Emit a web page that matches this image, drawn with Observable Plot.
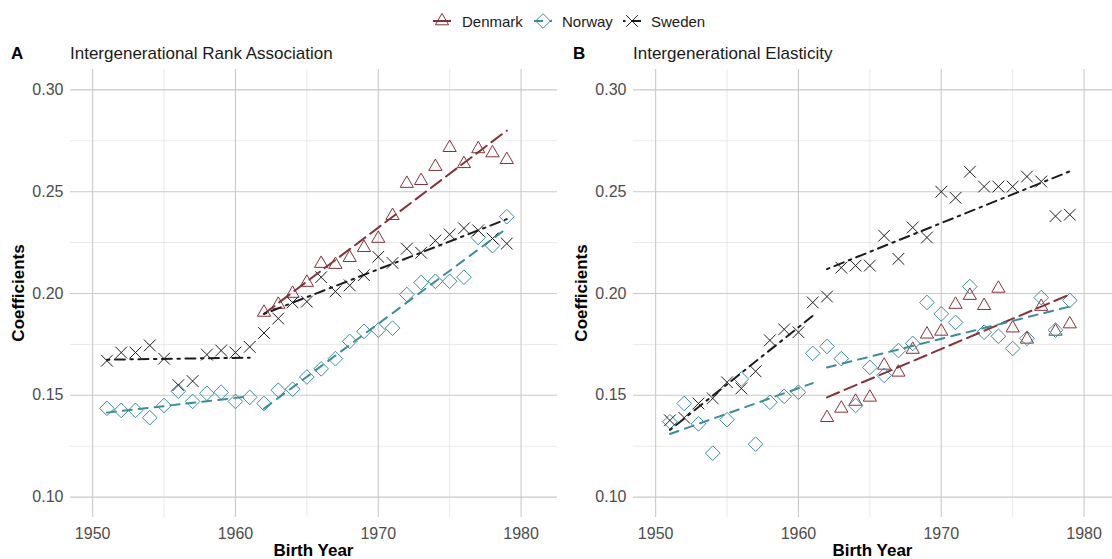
<!DOCTYPE html>
<html><head><meta charset="utf-8">
<script src="https://cdn.jsdelivr.net/npm/d3@7"></script>
<script src="https://cdn.jsdelivr.net/npm/@observablehq/plot@0.6"></script>
<style>
body{margin:0;background:#fff;}
#chart{position:relative;width:1112px;height:559px;overflow:hidden;background:#fff;font-family:"Liberation Sans",Arial,sans-serif;}
#chart > svg{position:absolute;top:0;}
</style></head><body><div id="chart"></div>
<script>
// ---------- data ----------
const countries = ["Denmark", "Norway", "Sweden"];
const years = [1951,1952,1953,1954,1955,1956,1957,1958,1959,1960,1961,1962,1963,1964,1965,1966,1967,1968,1969,1970,1971,1972,1973,1974,1975,1976,1977,1978,1979];
const yearsDenmark = [1962,1963,1964,1965,1966,1967,1968,1969,1970,1971,1972,1973,1974,1975,1976,1977,1978,1979];

// Panel A: Intergenerational Rank Association
const rankDenmark = [0.1907,0.1946,0.200,0.2054,0.2147,0.2142,0.2176,0.2225,0.227,0.2382,0.254,0.2554,0.2623,0.2716,0.2637,0.271,0.269,0.2657];
const rankNorway  = [0.1436,0.1426,0.1426,0.139,0.145,0.152,0.147,0.151,0.1515,0.147,0.149,0.146,0.1525,0.153,0.159,0.163,0.168,0.1765,0.1814,0.182,0.183,0.1995,0.2054,0.206,0.206,0.208,0.2275,0.2235,0.2377];
const rankSweden  = [0.167,0.171,0.171,0.1745,0.168,0.155,0.157,0.170,0.172,0.171,0.1738,0.1806,0.1877,0.1956,0.196,0.208,0.201,0.204,0.209,0.218,0.215,0.222,0.220,0.226,0.229,0.232,0.231,0.227,0.2245];

// Panel B: Intergenerational Elasticity
const igeDenmark = [0.139,0.1436,0.147,0.149,0.1647,0.1613,0.1725,0.180,0.1814,0.1946,0.199,0.194,0.2025,0.183,0.1775,0.1936,0.1814,0.185];
const igeNorway  = [0.137,0.146,0.136,0.1216,0.138,0.158,0.126,0.1466,0.1495,0.1515,0.1706,0.174,0.168,0.145,0.1637,0.1598,0.172,0.1755,0.1956,0.190,0.1858,0.2034,0.181,0.179,0.173,0.178,0.198,0.182,0.1966];
const igeSweden  = [0.1377,0.139,0.146,0.1485,0.1564,0.1534,0.1618,0.177,0.1824,0.181,0.1956,0.1985,0.2127,0.2137,0.2137,0.2284,0.217,0.2324,0.2275,0.25,0.247,0.2598,0.2525,0.2525,0.2525,0.2574,0.255,0.238,0.2387];

// Fitted trend segments (start year, end year) and their values
const segYears = [[1951, 1961], [1962, 1979]];
const rankTrendDenmark = [null, [0.190, 0.280]];
const rankTrendNorway  = [[0.1415, 0.1495], [0.1435, 0.232]];
const rankTrendSweden  = [[0.1675, 0.1685], [0.190, 0.2365]];
const igeTrendDenmark  = [null, [0.149, 0.1995]];
const igeTrendNorway   = [[0.131, 0.156], [0.1637, 0.1936]];
const igeTrendSweden   = [[0.133, 0.189], [0.212, 0.260]];

const xTicks = [1950, 1960, 1970, 1980];
const xMinor = [1955, 1965, 1975];
const yTicks = [0.10, 0.15, 0.20, 0.25, 0.30];
const yMinor = [0.125, 0.175, 0.225, 0.275];

// ---------- styles ----------
const colors = {Denmark: "#843238", Norway: "#3a8d9b", Sweden: "#1c1c1c"};
const symbols = {Denmark: "triangle", Norway: "diamond2", Sweden: "times"};
const radii = {Denmark: 4.9, Norway: 6.6, Sweden: 5.4};
const dashes = {Denmark: "13,6", Norway: "9,7", Sweden: "2.5,5.5,10,5.5"};

function pts(xs, vs, c) { return vs.map((v, i) => ({year: xs[i], value: v, country: c})); }
function trend(tr, c) {
  const out = [];
  tr.forEach((s, i) => { if (s) { out.push({year: segYears[i][0], value: s[0], seg: i, country: c}); out.push({year: segYears[i][1], value: s[1], seg: i, country: c}); } });
  return out;
}

function panel({width, ml, mr, xdomain, points, trends}) {
  const marks = [
    Plot.gridY(yMinor, {stroke: "#e0e0e0", strokeOpacity: 1, strokeWidth: 0.7}),
    Plot.gridX(xMinor, {stroke: "#e0e0e0", strokeOpacity: 1, strokeWidth: 0.7}),
    Plot.gridY(yTicks, {stroke: "#c9c9c9", strokeOpacity: 1, strokeWidth: 1.1}),
    Plot.gridX(xTicks, {stroke: "#c9c9c9", strokeOpacity: 1, strokeWidth: 1.1}),
  ];
  for (const c of countries) {
    marks.push(Plot.dot(points[c], {x: "year", y: "value", symbol: symbols[c], r: radii[c], stroke: colors[c], fill: "none", strokeWidth: 1}));
  }
  for (const c of countries) {
    marks.push(Plot.line(trends[c], {x: "year", y: "value", z: "seg", stroke: colors[c], strokeWidth: 2, strokeDasharray: dashes[c]}));
  }
  return Plot.plot({
    width, height: 559,
    marginLeft: ml, marginRight: mr, marginTop: 69, marginBottom: 42,
    x: {domain: xdomain, ticks: xTicks, tickFormat: d => String(d), tickSize: 0, tickPadding: 10, label: null},
    y: {domain: [0.09, 0.31], ticks: yTicks, tickFormat: d3.format(".2f"), tickSize: 0, tickPadding: 7, label: null},
    style: {fontFamily: "Liberation Sans, Arial, sans-serif", fontSize: "16px", color: "#4d4d4d", background: "transparent", overflow: "visible"},
    marks
  });
}

const chart = document.getElementById("chart");
const pxPerYear = 487 / 34.1;

const svgA = panel({
  width: 557, ml: 70, mr: 0, xdomain: [1948.45, 1982.55],
  points: {Denmark: pts(yearsDenmark, rankDenmark, "Denmark"), Norway: pts(years, rankNorway, "Norway"), Sweden: pts(years, rankSweden, "Sweden")},
  trends: {Denmark: trend(rankTrendDenmark, "Denmark"), Norway: trend(rankTrendNorway, "Norway"), Sweden: trend(rankTrendSweden, "Sweden")}
});
svgA.style.left = "0px";
chart.appendChild(svgA);

const svgB = panel({
  width: 556, ml: 77, mr: 0, xdomain: [1948.45, 1948.45 + 479 / pxPerYear],
  points: {Denmark: pts(yearsDenmark, igeDenmark, "Denmark"), Norway: pts(years, igeNorway, "Norway"), Sweden: pts(years, igeSweden, "Sweden")},
  trends: {Denmark: trend(igeTrendDenmark, "Denmark"), Norway: trend(igeTrendNorway, "Norway"), Sweden: trend(igeTrendSweden, "Sweden")}
});
svgB.style.left = "556px";
chart.appendChild(svgB);

// ---------- overlay texts and legend ----------
const ov = d3.select(chart).append("svg")
  .attr("width", 1112).attr("height", 559)
  .style("left", "0px").style("pointer-events", "none")
  .style("font-family", "Liberation Sans, Arial, sans-serif");

const panels = [
  {tag: "A", title: "Intergenerational Rank Association", tagX: 11, titleX: 70, ylabX: 18, xCenter: 313.5},
  {tag: "B", title: "Intergenerational Elasticity", tagX: 573, titleX: 633, ylabX: 581, xCenter: 872.5}
];
for (const p of panels) {
  ov.append("text").attr("x", p.tagX).attr("y", 59).attr("font-size", 17).attr("font-weight", "bold").attr("fill", "#000").text(p.tag);
  ov.append("text").attr("x", p.titleX).attr("y", 59).attr("font-size", 17).attr("fill", "#1a1a1a").text(p.title);
  ov.append("text").attr("transform", `translate(${p.ylabX},293) rotate(-90)`).attr("dy", "0.36em")
    .attr("text-anchor", "middle").attr("font-size", 17).attr("font-weight", "bold").attr("fill", "#000").text("Coefficients");
  ov.append("text").attr("x", p.xCenter).attr("y", 556).attr("text-anchor", "middle")
    .attr("font-size", 17).attr("font-weight", "bold").attr("fill", "#000").text("Birth Year");
}

const legendItems = [
  {c: "Denmark", kx: 442, tx: 462},
  {c: "Norway", kx: 543, tx: 562},
  {c: "Sweden", kx: 632, tx: 651}
];
const symMap = {Denmark: d3.symbolTriangle, Norway: d3.symbolDiamond2, Sweden: d3.symbolTimes};
for (const it of legendItems) {
  const c = it.c;
  ov.append("line").attr("x1", it.kx - 9).attr("x2", it.kx + 9).attr("y1", 21).attr("y2", 21)
    .attr("stroke", colors[c]).attr("stroke-width", 2).attr("stroke-dasharray", c === "Denmark" ? null : dashes[c]);
  ov.append("path").attr("transform", `translate(${it.kx},21)`)
    .attr("d", d3.symbol(symMap[c], radii[c] * radii[c] * Math.PI)())
    .attr("fill", "none").attr("stroke", colors[c]).attr("stroke-width", 1);
  ov.append("text").attr("x", it.tx).attr("y", 26.5).attr("font-size", 15).attr("fill", "#1a1a1a").text(c);
}
</script></body></html>
